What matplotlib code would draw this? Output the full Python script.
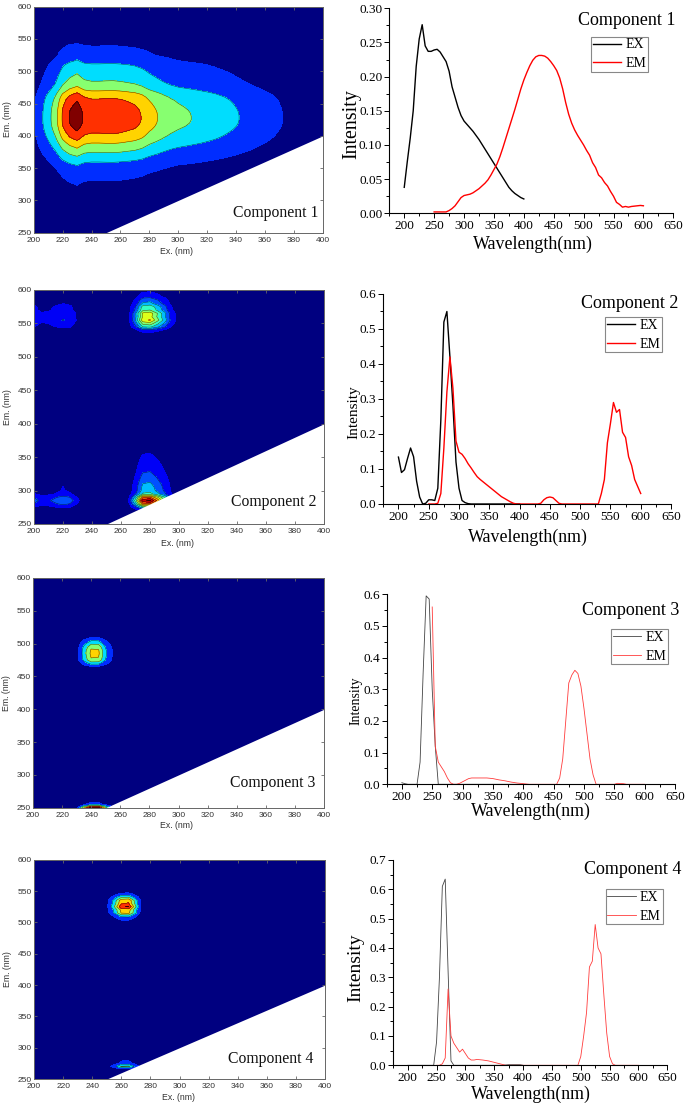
import matplotlib
matplotlib.use("Agg")
import numpy as np
import matplotlib.pyplot as plt
from matplotlib.ticker import MultipleLocator

W, H = 685, 1105

# ---- loadings ----
c1_ex_wl = list(range(200, 405, 5))
c1_ex = [.038, .075, .11, .15, .215, .255, .276, .245, .237, .237, .239, .24, .236, .229, .222,
         .208, .185, .17, .155, .143, .135, .13, .125, .12, .114, .108, .101, .094, .087, .08,
         .073, .066, .059, .052, .045, .038, .033, .029, .026, .023, .021]
c1_em_wl = list(range(250, 605, 5))
c1_em = [.002, .002, .002, .002, .002, .004, .007, .011, .017, .023, .026, .027, .028, .03, .033,
         .036, .04, .044, .049, .056, .064, .072, .083, .096, .11, .124, .138, .152, .167, .182,
         .195, .206, .216, .224, .229, .231, .231, .23, .227, .222, .216, .209, .198, .182, .162,
         .145, .132, .122, .114, .107, .1, .092, .085, .074, .067, .056, .052, .045, .04, .032,
         .025, .016, .013, .009, .01, .009, .01, .0105, .011, .0115, .011]

c2_ex_wl = [200, 205, 210, 215, 220, 225, 230, 235, 240, 245, 250, 255, 260, 265, 270, 275, 280,
            285, 290, 295, 300, 305, 310, 315, 320, 400]
c2_ex = [.134, .09, .098, .13, .16, .135, .065, .02, 0, .002, .012, .012, .01, .045, .24, .52, .55,
         .42, .28, .12, .045, .01, .004, .001, 0, 0]
c2_em_wl = [250, 260, 265, 270, 275, 280, 285, 290, 295, 300, 305, 310, 315, 320, 325, 330, 335,
            340, 345, 350, 355, 360, 365, 370, 375, 380, 385, 390, 395, 430, 435, 440, 445, 450,
            455, 460, 465, 470, 530, 535, 540, 545, 550, 555, 560, 565, 570, 575, 580, 585, 590,
            595, 600]
c2_em = [0, 0, .002, .03, .16, .32, .42, .33, .18, .148, .142, .13, .115, .103, .09, .078, .07,
         .063, .056, .049, .042, .035, .028, .021, .016, .011, .006, .002, 0, 0, .002, .012, .018,
         .02, .018, .01, .002, 0, 0, .03, .07, .175, .23, .29, .262, .27, .205, .19, .135, .11,
         .07, .05, .03]

c3_ex_wl = [200, 205, 210, 225, 230, 235, 240, 245, 250, 255, 260, 265, 400]
c3_ex = [.005, .002, 0, 0, .07, .35, .595, .585, .3, .12, 0, 0, 0]
c3_em_wl = [250, 255, 260, 265, 270, 275, 280, 285, 290, 295, 300, 305, 310, 315, 340, 345, 350,
            355, 360, 370, 380, 390, 400, 410, 455, 460, 465, 470, 475, 480, 485, 490, 495, 500,
            505, 510, 515, 520, 550, 555, 565, 570, 600]
c3_em = [.56, .12, .07, .055, .04, .02, .005, 0, 0, .003, .008, .013, .018, .02, .02, .019, .018,
         .016, .014, .011, .007, .004, .002, 0, 0, .02, .08, .2, .32, .345, .36, .35, .31, .24,
         .16, .08, .03, 0, 0, .003, .002, 0, 0]

c4_ex_wl = [200, 240, 245, 250, 255, 260, 265, 270, 275, 280, 365, 375, 395, 400]
c4_ex = [0, 0, 0, .08, .3, .61, .635, .32, .015, 0, 0, .002, .002, 0]
c4_em_wl = [250, 255, 260, 265, 270, 275, 280, 285, 290, 295, 300, 305, 310, 315, 320, 330, 340,
            350, 360, 370, 495, 500, 505, 510, 515, 520, 525, 530, 535, 540, 545, 550, 555, 560, 600]
c4_em = [0, 0, .005, .025, .26, .1, .075, .06, .045, .055, .04, .025, .018, .018, .02, .018, .015,
         .01, .005, 0, 0, .03, .1, .18, .335, .355, .48, .4, .38, .24, .11, .03, .005, 0, 0]

names = ["Component 1", "Component 2", "Component 3", "Component 4"]
ex_wl = [c1_ex_wl, c2_ex_wl, c3_ex_wl, c4_ex_wl]
ex_val = [c1_ex, c2_ex, c3_ex, c4_ex]
em_wl = [c1_em_wl, c2_em_wl, c3_em_wl, c4_em_wl]
em_val = [c1_em, c2_em, c3_em, c4_em]

# contour level spacing and band count of each map
steps = [.0097, .0225, .05, .05]
bands = [7, 11, 7, 7]

# ---- layout, in pixels of the 685x1105 picture ----
# left, right, top, bottom
map_box = [(33.7, 322.7, 6.7, 232.7), (34, 324, 290, 524), (33, 324, 578, 807.7), (34, 325, 859.7, 1079)]
map_label = [(276, 213), (273.7, 501.7), (273, 783.3), (271, 1059)]
ex_label = [(177, 251.7), (177.7, 543), (177, 826), (178, 1097)]
em_label = [(7.5, 119), (7.5, 406.7), (6.5, 692.7), (8, 969)]

line_box = [(389.3, 673.3, 8.3, 213.3), (383.3, 671, 294, 504), (386.7, 675, 594.3, 784.3), (393.3, 667.3, 860, 1065.3)]
line_ymax = [.3, .6, .6, .7]
line_ystep = [.05, .1, .1, .1]
line_fmt = ["{x:.2f}", "{x:.1f}", "{x:.1f}", "{x:.1f}"]
line_lw = [1.0, 1.0, .6, .6]
ex_color = ["black", "black", "#444444", "#444444"]
em_color = ["red", "red", "#ff3b3b", "#ff3b3b"]
title_pos = [(626.7, 20.7), (630, 304), (630.8, 610.7), (633, 870)]
xlabel_pos = [(532.5, 244), (528, 537.3), (531, 811.7), (531, 1094)]
ylabel_pos = [(351.7, 124), (354, 411.7), (355.7, 701), (356, 968)]
ylabel_size = [14.4, 11, 10, 14]
legend_pos = [(591, 36.7), (605, 317.3), (611.3, 629), (605.7, 889)]

SERIF = "Liberation Serif"
SANS = "Liberation Sans"
GREY = "#666666"


def fx(px):
    return px / W


def fy(py):
    return 1 - py / H


def add_axes(box):
    l, r, t, b = box
    return fig.add_axes([fx(l), fy(b), (r - l) / W, (b - t) / H])


fig = plt.figure(figsize=(W / 100, H / 100), dpi=100)

for i in range(4):
    # --- EEM map = ex loading x em loading ---
    ax = add_axes(map_box[i])
    z = np.outer(em_val[i], ex_val[i])
    levels = np.arange(bands[i] + 1) * steps[i]
    # matlab style: bottom band navy, top band dark red
    band_colors = plt.cm.jet(np.minimum(np.linspace(0, 1, bands[i]) * 1.03, 1))
    ax.contourf(ex_wl[i], em_wl[i], z, levels=levels, colors=band_colors, zorder=1)
    ax.contour(ex_wl[i], em_wl[i], z, levels=levels[2:], colors="k", linewidths=.4, alpha=.65, zorder=1.2)
    # no data below the em = ex line
    ax.fill_between([250, 400], 250, [250, 400], color="white", lw=0, zorder=1.5)
    ax.set_xlim(200, 400)
    ax.set_ylim(250, 600)
    ax.set_xticks(range(200, 420, 20))
    ax.set_yticks(range(250, 650, 50))
    ax.set_axisbelow(False)
    ax.tick_params(direction="in", length=2, width=.6, color=GREY, top=True, right=True,
                   labelsize=6, labelcolor="#333333", pad=1.5)
    ax.tick_params(axis="x", pad=3)
    for lab in ax.get_xticklabels() + ax.get_yticklabels():
        lab.set_family(SANS)
    for sp in ax.spines.values():
        sp.set_color(GREY)
        sp.set_linewidth(.7)
    fig.text(fx(map_label[i][0]), fy(map_label[i][1]), names[i], family=SERIF, fontsize=11.3,
             ha="center", va="center", color="#111111")
    fig.text(fx(ex_label[i][0]), fy(ex_label[i][1]), "Ex. (nm)", family=SANS, fontsize=6.3,
             ha="center", va="center", color="#333333")
    fig.text(fx(em_label[i][0]), fy(em_label[i][1]), "Em. (nm)", family=SANS, fontsize=6.3,
             rotation=90, ha="center", va="center", color="#333333")

    # --- loadings ---
    ax = add_axes(line_box[i])
    ax.plot(ex_wl[i], ex_val[i], color=ex_color[i], lw=line_lw[i], label="EX", clip_on=False)
    ax.plot(em_wl[i], em_val[i], color=em_color[i], lw=line_lw[i], label="EM", clip_on=False)
    ax.set_xlim(175, 650)
    ax.set_ylim(0, line_ymax[i])
    ax.set_xticks(range(200, 700, 50))
    ax.xaxis.set_minor_locator(MultipleLocator(25))
    ax.yaxis.set_major_locator(MultipleLocator(line_ystep[i]))
    ax.yaxis.set_minor_locator(MultipleLocator(line_ystep[i] / 2))
    ax.yaxis.set_major_formatter(line_fmt[i])
    ax.spines["top"].set_visible(False)
    ax.spines["right"].set_visible(False)
    ax.tick_params(which="major", direction="out", length=3.5, width=.7, labelsize=9.5, pad=1.5)
    ax.tick_params(which="minor", direction="out", length=2, width=.7)
    for lab in ax.get_xticklabels() + ax.get_yticklabels():
        lab.set_family(SERIF)
    ax.patch.set_alpha(0)
    leg = ax.legend(loc="upper left", bbox_to_anchor=(fx(legend_pos[i][0]), fy(legend_pos[i][1])),
                    bbox_transform=fig.transFigure, borderaxespad=0, fancybox=False, framealpha=1,
                    edgecolor="#888888", prop={"family": SERIF, "size": 10}, handlelength=2.05,
                    handletextpad=.3, borderpad=.12, labelspacing=.42)
    leg.get_frame().set_linewidth(.8)
    fig.text(fx(title_pos[i][0]), fy(title_pos[i][1]), names[i], family=SERIF, fontsize=13,
             ha="center", va="center")
    fig.text(fx(xlabel_pos[i][0]), fy(xlabel_pos[i][1]), "Wavelength(nm)", family=SERIF, fontsize=12.9,
             ha="center", va="center")
    fig.text(fx(ylabel_pos[i][0]), fy(ylabel_pos[i][1]), "Intensity", family=SERIF, fontsize=ylabel_size[i],
             rotation=90, ha="center", va="center")

fig.savefig("out.png", dpi=100)
